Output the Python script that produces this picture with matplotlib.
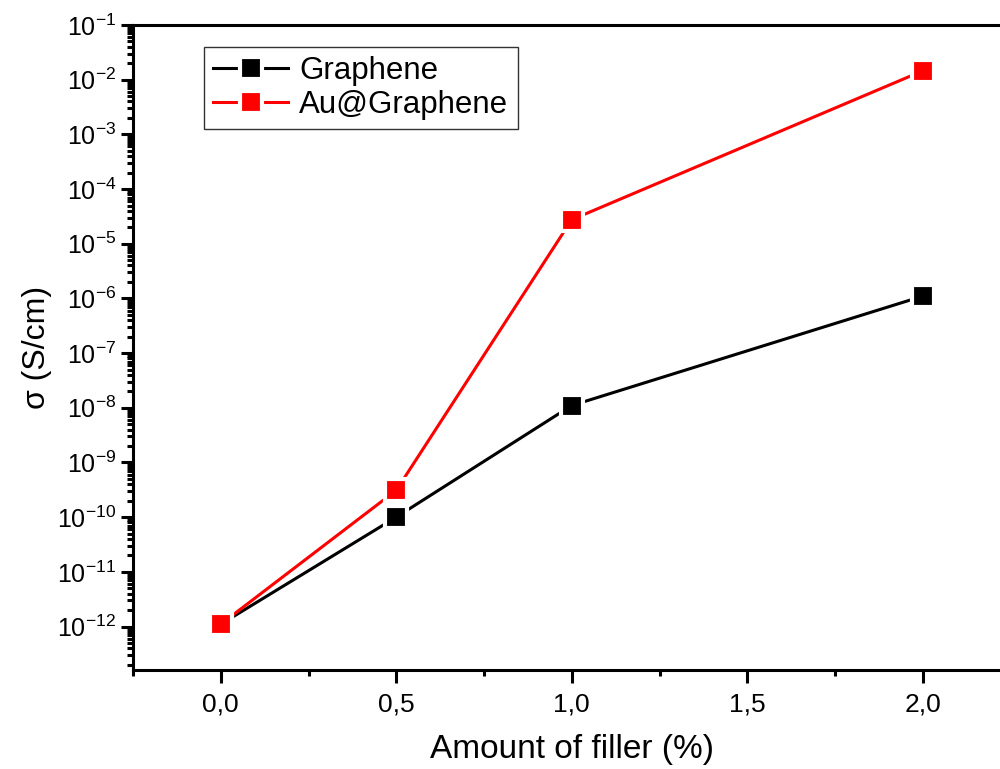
import matplotlib
matplotlib.use("Agg")
import matplotlib.pyplot as plt
from matplotlib.ticker import LogLocator, FixedLocator, NullFormatter, FuncFormatter
import numpy as np

filler = [0.0, 0.5, 1.0, 2.0]
graphene = [1.1e-12, 1.0e-10, 1.1e-8, 1.1e-6]
au_graphene = [1.1e-12, 3.1e-10, 2.75e-5, 1.45e-2]
xticks = [0.0, 0.5, 1.0, 1.5, 2.0]
xticklabels = ["0,0", "0,5", "1,0", "1,5", "2,0"]
xminor = [-0.25, 0.25, 0.75, 1.25, 1.75, 2.25]

plt.rcParams['font.family'] = ['Liberation Sans', 'DejaVu Sans']
plt.rcParams['mathtext.fontset'] = 'custom'
plt.rcParams['mathtext.rm'] = 'Liberation Sans'
plt.rcParams['mathtext.it'] = 'Liberation Sans'
plt.rcParams['mathtext.bf'] = 'Liberation Sans'

fig = plt.figure(figsize=(10, 7.69), dpi=100)
ax = fig.add_axes([0.133, 0.1287, 0.8775, 0.8388])

common = dict(marker='s', markersize=16.5, markeredgecolor='white',
              markeredgewidth=3, linewidth=2.2)
ax.plot(filler, graphene, color='black', markerfacecolor='black',
        label='Graphene', **common)
ax.plot(filler, au_graphene, color='#ff0000', markerfacecolor='#ff0000',
        label='Au@Graphene', **common)

ax.set_yscale('log')
ax.set_ylim(1.6e-13, 1e-1)
ax.set_xlim(-0.25, 2.25)
ax.yaxis.set_major_locator(LogLocator(base=10, numticks=20))
ax.yaxis.set_minor_locator(LogLocator(base=10, subs=range(2, 10), numticks=20))
ax.yaxis.set_minor_formatter(NullFormatter())


def yfmt(v, pos):
    e = int(round(np.log10(v)))
    return r'$\mathrm{10^{%d}}$' % e


ax.yaxis.set_major_formatter(FuncFormatter(yfmt))
ax.set_xticks(xticks)
ax.set_xticklabels(xticklabels)
ax.xaxis.set_minor_locator(FixedLocator(xminor))

for s in ax.spines.values():
    s.set_linewidth(2.2)
ax.spines['right'].set_visible(False)

ax.tick_params(axis='both', which='major', direction='out', length=9, width=2.2)
ax.tick_params(axis='both', which='minor', direction='out', length=4.5, width=2.2)
ax.tick_params(axis='x', labelsize=19, pad=7)
ax.tick_params(axis='y', labelsize=18, pad=3)

ax.set_xlabel('Amount of filler (%)', fontsize=24, labelpad=13)
ax.set_ylabel('σ (S/cm)', fontsize=23, labelpad=4)

leg = ax.legend(loc='upper left', bbox_to_anchor=(0.081, 0.966), fontsize=22.5,
                frameon=True, fancybox=False, edgecolor='black',
                handlelength=2.4, handletextpad=0.35, borderpad=0.3,
                labelspacing=0.12, borderaxespad=0)
leg.get_frame().set_linewidth(1.0)

fig.savefig('out.png', dpi=100)
